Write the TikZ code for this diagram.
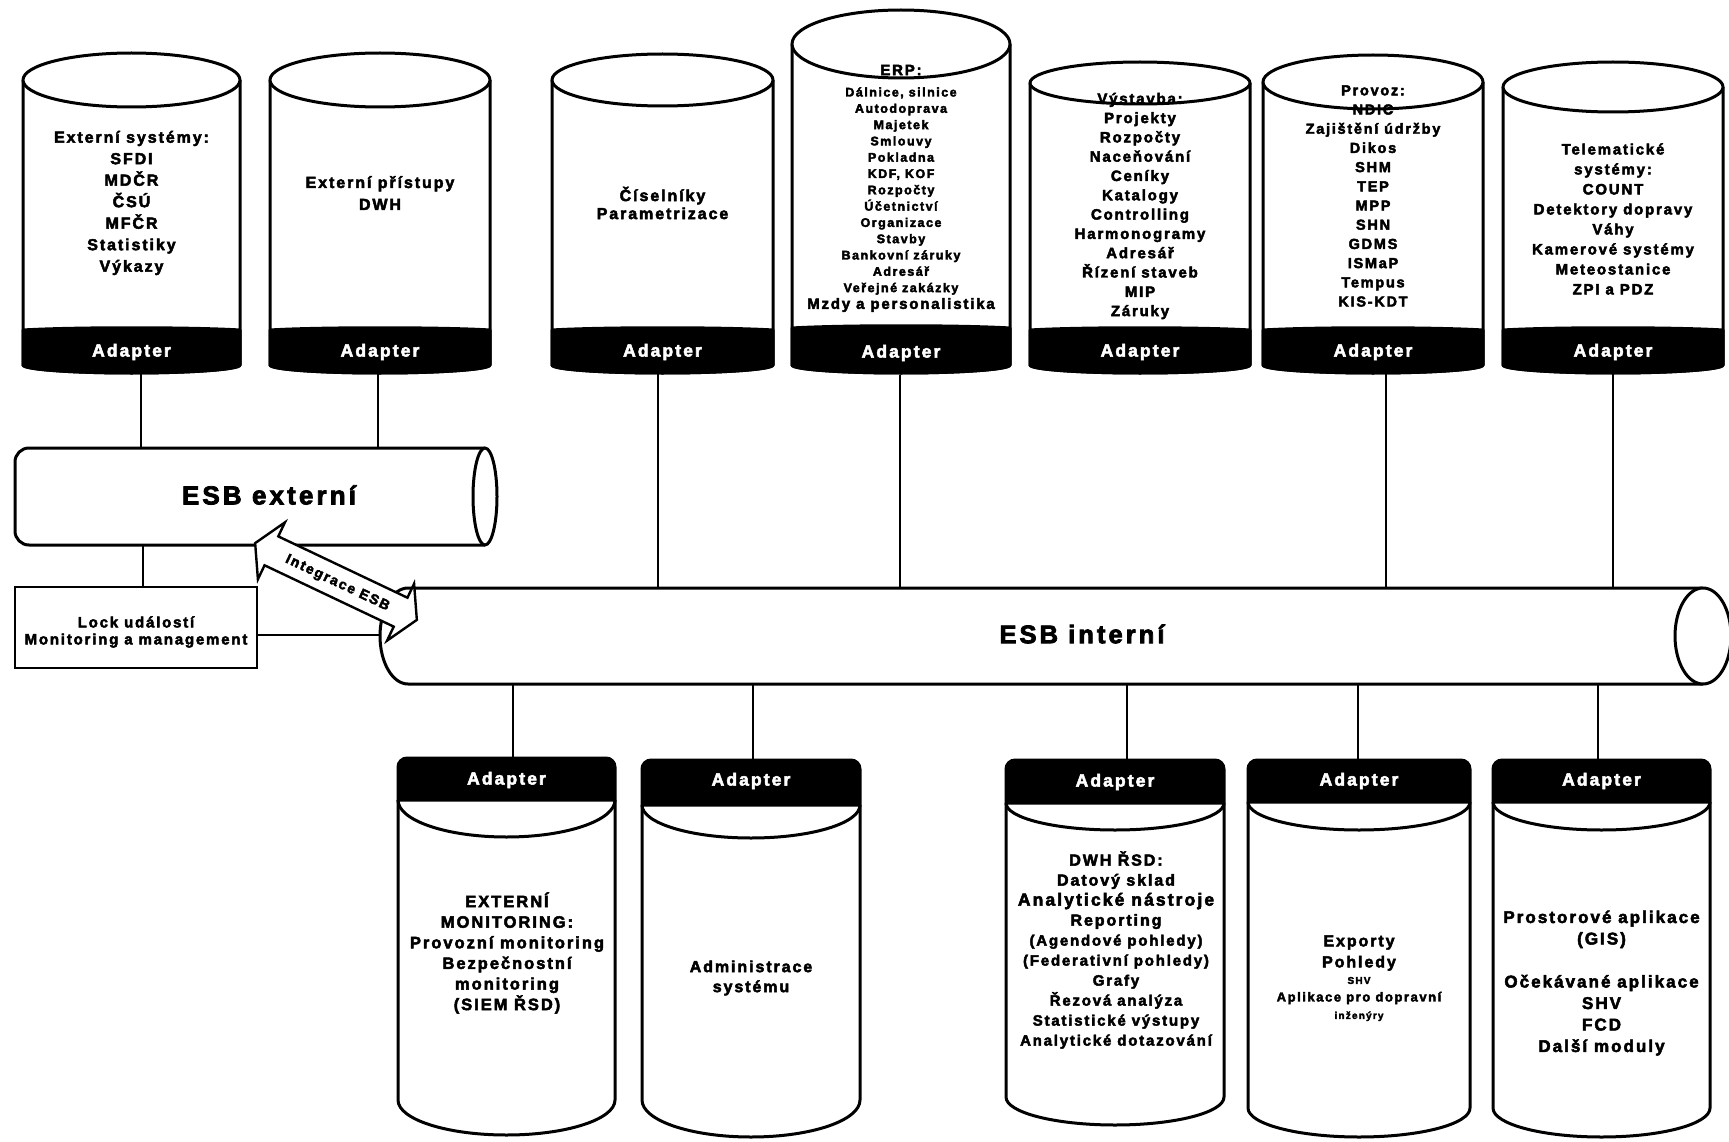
\documentclass[tikz,border=0pt]{standalone}
\usepackage{fontspec}
\setmainfont{Liberation Sans}[LetterSpace=12, BoldFeatures={FakeBold=3}]
\newcommand\topcyl[5]{%
  \pgfmathsetmacro\tcx{(#1+#2)/2}%
  \pgfmathsetmacro\trx{(#2-#1)/2}%
  \fill[white] (#1,-#3) -- (#1,-365) arc[start angle=180,end angle=360,x radius=\trx,y radius=8] -- (#2,-#3) -- cycle;
  \filldraw[cyl] (#1,-#5) -- (#1,-365) arc[start angle=180,end angle=360,x radius=\trx,y radius=8] -- (#2,-#5) .. controls (#2-50,-#5+3) and (#1+50,-#5+3) .. (#1,-#5) -- cycle;
  \draw[cyl] (#1,-#3) -- (#1,-365) arc[start angle=180,end angle=360,x radius=\trx,y radius=8] -- (#2,-#3);
  \draw[cyl,fill=white] (\tcx,-#3) ellipse[x radius=\trx,y radius=#4];
}
\newcommand\botcyl[7]{%
  \pgfmathsetmacro\bcx{(#1+#2)/2}%
  \pgfmathsetmacro\brx{(#2-#1)/2}%
  \fill[white] (#1,-#4) -- (#1,-#6) arc[start angle=180,end angle=360,x radius=\brx,y radius=#7] -- (#2,-#4) -- cycle;
  \draw[cyl] (#1,-#4) -- (#1,-#6) arc[start angle=180,end angle=360,x radius=\brx,y radius=#7] -- (#2,-#4);
  \draw[cyl] (#1,-#4) arc[start angle=180,end angle=360,x radius=\brx,y radius=#5];
  \filldraw[cyl] (#1,-#4) [rounded corners=9pt] -- (#1,-#3) -- (#2,-#3) [sharp corners] -- (#2,-#4) -- cycle;
}
\begin{document}
\begin{tikzpicture}[x=1pt,y=1pt,
  cyl/.style={line width=3pt, line join=round},
  conn/.style={line width=2.4pt},
  txt/.style={align=center, inner sep=0pt},
  adtxt/.style={txt, text=white, font=\bfseries\fontsize{17.5}{18}\selectfont},
]
\fill[white] (0,0) rectangle (1729,-1142);
\useasboundingbox (0,0) rectangle (1729,-1142);

% connector end points
\coordinate (a1s) at (141,-373);  \coordinate (ext1) at (141,-448);
\coordinate (a2s) at (378,-373);  \coordinate (ext2) at (378,-448);
\coordinate (extb) at (143,-545); \coordinate (lockt) at (143,-587);
\coordinate (lockr) at (257,-635); \coordinate (intl) at (381,-635);
\coordinate (a3s) at (658,-373);  \coordinate (int3) at (658,-588);
\coordinate (a4s) at (900,-375);  \coordinate (int4) at (900,-588);
\coordinate (a6s) at (1386,-373); \coordinate (int6) at (1386,-588);
\coordinate (a7s) at (1613,-373); \coordinate (int7) at (1613,-588);
\coordinate (intb1) at (513,-684);  \coordinate (ba1n) at (513,-758);
\coordinate (intb2) at (753,-684);  \coordinate (ba2n) at (753,-760);
\coordinate (intb3) at (1127,-684); \coordinate (ba3n) at (1127,-760);
\coordinate (intb4) at (1358,-684); \coordinate (ba4n) at (1358,-760);
\coordinate (intb5) at (1598,-684); \coordinate (ba5n) at (1598,-760);

\foreach \p/\q in {a1s/ext1,a2s/ext2,extb/lockt,lockr/intl,a3s/int3,a4s/int4,a6s/int6,a7s/int7,intb1/ba1n,intb2/ba2n,intb3/ba3n,intb4/ba4n,intb5/ba5n}
  \draw[conn] (\p) -- (\q);

% top cylinders
\topcyl{23}{240}{80}{27}{330}
\topcyl{270}{490}{80}{27}{330}
\topcyl{552}{773}{80}{26}{330}
\topcyl{792}{1010}{44}{34}{328}
\topcyl{1030}{1250}{83}{21}{330}
\topcyl{1263}{1483}{82}{27}{330}
\topcyl{1503}{1723}{87}{25}{330}

\node[adtxt] (a1) at (131.5,-352) {Adapter};
\node[adtxt] (a2) at (380,-352) {Adapter};
\node[adtxt] (a3) at (662.5,-352) {Adapter};
\node[adtxt] (a4) at (901,-353) {Adapter};
\node[adtxt] (a5) at (1140,-352) {Adapter};
\node[adtxt] (a6) at (1373,-352) {Adapter};
\node[adtxt] (a7) at (1613,-352) {Adapter};

\node[txt, font=\bfseries\fontsize{16}{21.5}\selectfont] (t1) at (131.5,-203) {Externí systémy:\\SFDI\\MDČR\\ČSÚ\\MFČR\\Statistiky\\Výkazy};
\node[txt, font=\bfseries\fontsize{16}{22}\selectfont] (t2) at (380,-193) {Externí přístupy\\DWH};
\node[txt, font=\bfseries\fontsize{16}{18}\selectfont] (t3) at (662.5,-203) {Číselníky\\Parametrizace};
\node[txt, font=\bfseries\fontsize{15}{16}\selectfont] (t4h) at (901,-70) {ERP:};
\node[txt, font=\bfseries\fontsize{12.5}{16.3}\selectfont] (t4) at (901,-191) {Dálnice, silnice\\Autodoprava\\Majetek\\Smlouvy\\Pokladna\\KDF, KOF\\Rozpočty\\Účetnictví\\Organizace\\Stavby\\Bankovní záruky\\Adresář\\Veřejné zakázky};
\node[txt, font=\bfseries\fontsize{15}{16}\selectfont] (t4l) at (901,-305) {Mzdy a personalistika};
\node[txt, font=\bfseries\fontsize{15}{19.3}\selectfont] (t5) at (1140,-206) {Výstavba:\\Projekty\\Rozpočty\\Naceňování\\Ceníky\\Katalogy\\Controlling\\Harmonogramy\\Adresář\\Řízení staveb\\MIP\\Záruky};
\node[txt, font=\bfseries\fontsize{14.5}{19.2}\selectfont] (t6) at (1373,-196) {Provoz:\\NDIC\\Zajištění údržby\\Dikos\\SHM\\TEP\\MPP\\SHN\\GDMS\\ISMaP\\Tempus\\KIS-KDT};
\node[txt, font=\bfseries\fontsize{15}{20}\selectfont] (t7) at (1613,-219) {Telematické\\systémy:\\COUNT\\Detektory dopravy\\Váhy\\Kamerové systémy\\Meteostanice\\ZPI a PDZ};

% ESB externi
\draw[cyl, fill=white, rounded corners=14pt] (485,-448) -- (15,-448) -- (15,-545) -- (485,-545);
\draw[cyl, fill=white] (485,-496.5) ellipse[x radius=12, y radius=48.5];
\node[txt, font=\bfseries\fontsize{26}{30}\selectfont] (esbext) at (269,-495) {ESB externí};

% ESB interni
\draw[cyl, fill=white] (1703,-588) -- (408,-588) arc[start angle=90, end angle=270, x radius=28, y radius=48] -- (1703,-684);
\draw[cyl, fill=white] (1703,-636) ellipse[x radius=28, y radius=48];
\node[txt, font=\bfseries\fontsize{25.5}{30}\selectfont] (esbint) at (1082,-634) {ESB interní};

% Lock box
\draw[conn, fill=white] (15,-587) rectangle (257,-668);
\node[txt, font=\bfseries\fontsize{15}{17}\selectfont] (lock) at (136,-632) {Lock událostí\\Monitoring a management};

% Integrace ESB arrow
\begin{scope}[shift={(336,-581.5)}, rotate=-25.4]
  \draw[conn, fill=white, line join=miter] (-89.5,0) -- (-71.5,31.5) -- (-71.5,16) -- (71.5,16) -- (71.5,31.5) -- (89.5,0) -- (71.5,-31.5) -- (71.5,-16) -- (-71.5,-16) -- (-71.5,-31.5) -- cycle;
  \node[txt, font=\bfseries\fontsize{14}{16}\selectfont, rotate=-25.4] (integ) at (2,-1) {Integrace ESB};
\end{scope}

% bottom cylinders
\botcyl{398}{615}{758}{800}{37}{1100}{35}
\botcyl{642}{860}{760}{805}{33}{1100}{37}
\botcyl{1006}{1224}{760}{803}{27}{1097}{28}
\botcyl{1248}{1470}{760}{802}{28}{1108}{29}
\botcyl{1493}{1710}{760}{802}{28}{1108}{29}

\node[adtxt] (ba1) at (506.5,-780) {Adapter};
\node[adtxt] (ba2) at (751,-781) {Adapter};
\node[adtxt] (ba3) at (1115,-782) {Adapter};
\node[adtxt] (ba4) at (1359,-781) {Adapter};
\node[adtxt] (ba5) at (1601.5,-781) {Adapter};

\node[txt, font=\bfseries\fontsize{16.5}{20.6}\selectfont] (b1) at (507,-953) {EXTERNÍ\\MONITORING:\\Provozní monitoring\\Bezpečnostní\\monitoring\\(SIEM ŘSD)};
\node[txt, font=\bfseries\fontsize{16}{20}\selectfont] (b2) at (751,-978) {Administrace\\systému};
\node[txt, font=\bfseries\fontsize{15}{20}\selectfont] (b3) at (1116,-950) {{\fontsize{16}{20}\selectfont DWH ŘSD:}\\{\fontsize{16}{20}\selectfont Datový sklad}\\{\fontsize{17.5}{20}\selectfont Analytické nástroje}\\{\fontsize{16}{20}\selectfont Reporting}\\(Agendové pohledy)\\(Federativní pohledy)\\Grafy\\Řezová analýza\\Statistické výstupy\\Analytické dotazování};
\node[txt, font=\bfseries\fontsize{16}{21}\selectfont] (b4a) at (1359,-953) {Exporty\\Pohledy};
\node[txt, font=\bfseries\fontsize{13}{17.5}\selectfont] (b4b) at (1359,-999) {{\fontsize{10}{17.5}\selectfont SHV}\\Aplikace pro dopravní\\{\fontsize{10}{17.5}\selectfont inženýry}};
\node[txt, font=\bfseries\fontsize{17}{21.5}\selectfont] (b5) at (1601.5,-983) {Prostorové aplikace\\(GIS)\\[21.5pt]Očekávané aplikace\\SHV\\FCD\\Další moduly};
\end{tikzpicture}
\end{document}
